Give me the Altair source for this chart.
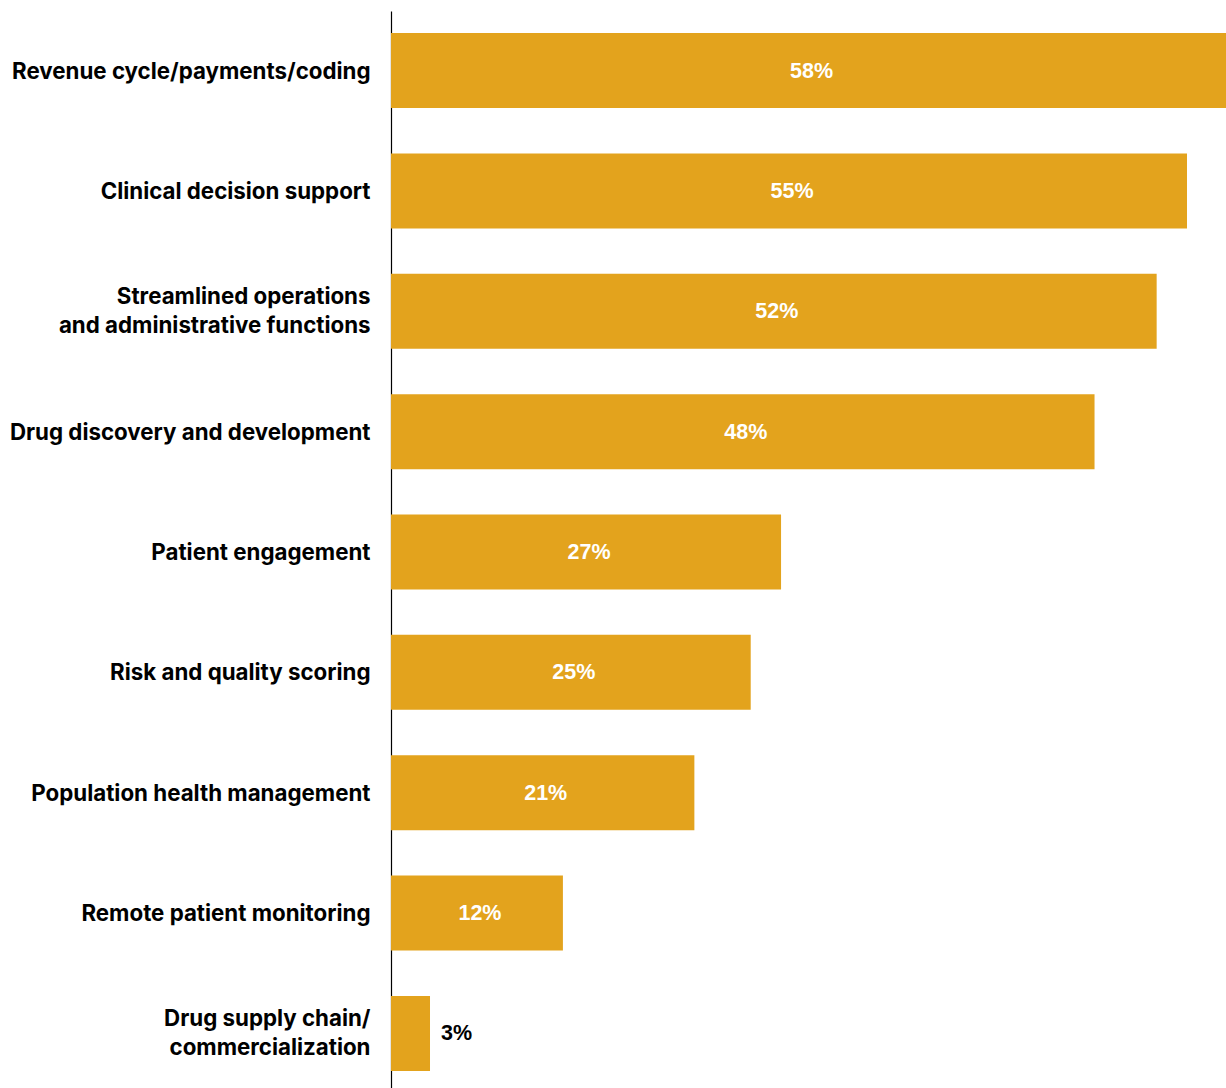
import altair as alt
import pandas as pd

categories = [
    "Revenue cycle/payments/coding",
    "Clinical decision support",
    "Streamlined operations|and administrative functions",
    "Drug discovery and development",
    "Patient engagement",
    "Risk and quality scoring",
    "Population health management",
    "Remote patient monitoring",
    "Drug supply chain/|commercialization",
]
values = [57.8, 55.1, 53.0, 48.7, 27.0, 24.9, 21.0, 11.9, 2.7]
labels = ["58%", "55%", "52%", "48%", "27%", "25%", "21%", "12%", "3%"]

df = pd.DataFrame({"cat": categories, "value": values, "label": labels})
df["half"] = df["value"] / 2

BAR = "#E3A31D"

y_enc = alt.Y(
    "cat:N",
    sort=categories,
    scale=alt.Scale(range=[0, 1082], paddingInner=0.377, paddingOuter=0.183),
    axis=alt.Axis(
        title=None,
        ticks=False,
        grid=False,
        domain=True,
        domainColor="#000000",
        domainWidth=1.2,
        labelFont="Inter",
        labelFontSize=22.3,
        labelFontWeight="bold",
        labelColor="#000000",
        labelPadding=21,
        labelLimit=0,
        labelLineHeight=29,
        labelOffset={"condition": {"test": "indexof(datum.value, '|') >= 0", "value": -14.5}, "value": 1},
        labelExpr="split(datum.label, '|')",
    ),
)

x_scale = alt.Scale(domain=[0, 57.8], nice=False, zero=True)

bars = alt.Chart(df).mark_bar(color=BAR).encode(
    x=alt.X("value:Q", scale=x_scale, axis=None),
    y=y_enc,
)

inside = alt.Chart(df).transform_filter("datum.value >= 5").mark_text(
    color="white", font="Liberation Sans", fontSize=21.5, fontWeight="bold",
    align="center", baseline="middle", dx=3, dy=1,
).encode(
    x=alt.X("half:Q", scale=x_scale),
    y=alt.Y("cat:N", sort=categories),
    text="label:N",
)

outside = alt.Chart(df).transform_filter("datum.value < 5").mark_text(
    color="black", font="Liberation Sans", fontSize=21.5, fontWeight="bold",
    align="left", baseline="middle", dx=11, dy=1,
).encode(
    x=alt.X("value:Q", scale=x_scale),
    y=alt.Y("cat:N", sort=categories),
    text="label:N",
)

chart = alt.layer(bars, inside, outside).properties(
    width=835,
    height=1077,
    autosize=alt.AutoSizeParams(type="none"),
    padding={"left": 391, "top": 11, "right": 0, "bottom": 0},
    background="white",
).configure_view(stroke=None)

chart.save("out.html", embed_options={"renderer": "svg", "actions": False})
